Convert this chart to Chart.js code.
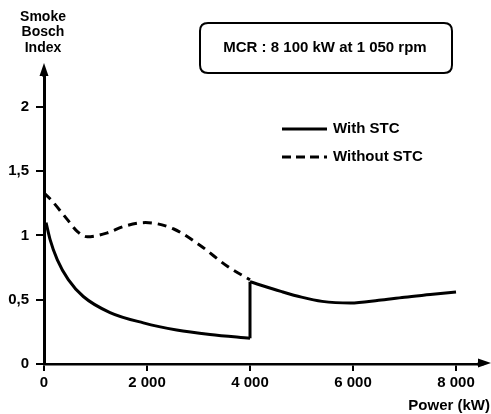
<!DOCTYPE html>
<html>
<head>
<meta charset="utf-8">
<script src="https://cdn.jsdelivr.net/npm/chart.js@4.4.1/dist/chart.umd.min.js"></script>
<style>
  html, body { margin: 0; padding: 0; background: #fff; }
  #wrap { width: 491px; height: 414px; position: relative; }
</style>
</head>
<body>
<div id="wrap"><canvas id="chart"></canvas></div>
<script>
// Values
const withStcLowPower = [40, 117, 259, 472, 763, 1282, 1929, 2576, 3223, 4000];
const withStcLowSmoke = [1.10, 0.97, 0.81, 0.656, 0.525, 0.40, 0.32, 0.265, 0.23, 0.20];
const withStcJumpPower = [4000, 4000];
const withStcJumpSmoke = [0.20, 0.64];
const withStcHighPower = [4000, 4600, 5000, 5400, 5950, 6500, 7000, 7500, 8000];
const withStcHighSmoke = [0.64, 0.565, 0.52, 0.487, 0.474, 0.495, 0.52, 0.54, 0.56];
const withoutStcPower = [0, 130, 450, 650, 840, 1230, 1550, 1970, 2520, 3040, 3560, 4000];
const withoutStcSmoke = [1.33, 1.28, 1.125, 1.03, 0.99, 1.02, 1.07, 1.10, 1.05, 0.92, 0.76, 0.655];

const xTickValues = [0, 2000, 4000, 6000, 8000];
const xTickLabels = ['0', '2 000', '4 000', '6 000', '8 000'];
const yTickValues = [0, 0.5, 1, 1.5, 2];
const yTickLabels = ['0', '0,5', '1', '1,5', '2'];

const legendLabels = ['With STC', 'Without STC'];
const yTitle = ['Smoke', 'Bosch', 'Index'];
const xTitle = 'Power (kW)';
const mcrText = 'MCR : 8 100 kW at 1 050 rpm';

const FONT = '"Liberation Sans", Arial, sans-serif';

function pts(xs, ys) {
  return xs.map((x, i) => ({ x, y: ys[i] }));
}

function roundRect(ctx, x, y, w, h, r) {
  ctx.beginPath();
  ctx.moveTo(x + r, y);
  ctx.lineTo(x + w - r, y);
  ctx.quadraticCurveTo(x + w, y, x + w, y + r);
  ctx.lineTo(x + w, y + h - r);
  ctx.quadraticCurveTo(x + w, y + h, x + w - r, y + h);
  ctx.lineTo(x + r, y + h);
  ctx.quadraticCurveTo(x, y + h, x, y + h - r);
  ctx.lineTo(x, y + r);
  ctx.quadraticCurveTo(x, y, x + r, y);
  ctx.closePath();
}

// draws axis arrows, titles, MCR box and the legend
const decorations = {
  id: 'decorations',
  afterDraw(chart) {
    const ctx = chart.ctx;
    const a = chart.chartArea;
    ctx.save();
    ctx.strokeStyle = '#000';
    ctx.fillStyle = '#000';

    // y axis arrow
    ctx.lineWidth = 3;
    ctx.beginPath();
    ctx.moveTo(a.left, a.top + 1);
    ctx.lineTo(a.left, a.top - 6);
    ctx.stroke();
    ctx.beginPath();
    ctx.moveTo(a.left, a.top - 13);
    ctx.lineTo(a.left - 4.5, a.top);
    ctx.lineTo(a.left + 4.5, a.top);
    ctx.closePath();
    ctx.fill();

    // x axis arrow
    ctx.lineWidth = 2.5;
    ctx.beginPath();
    ctx.moveTo(a.right - 1, a.bottom);
    ctx.lineTo(a.right + 6, a.bottom);
    ctx.stroke();
    ctx.beginPath();
    ctx.moveTo(a.right + 13, a.bottom - 1);
    ctx.lineTo(a.right, a.bottom - 5.5);
    ctx.lineTo(a.right, a.bottom + 3.5);
    ctx.closePath();
    ctx.fill();

    // axis titles
    ctx.font = 'bold 14px ' + FONT;
    ctx.textAlign = 'center';
    ctx.textBaseline = 'middle';
    yTitle.forEach((t, i) => ctx.fillText(t, 43, 17 + i * 15.5));
    ctx.font = 'bold 15px ' + FONT;
    ctx.textAlign = 'right';
    ctx.fillText(xTitle, 490, 406);

    // MCR box
    ctx.lineWidth = 2;
    roundRect(ctx, 200, 23, 252, 50, 8);
    ctx.stroke();
    ctx.textAlign = 'center';
    ctx.fillText(mcrText, 325, 48);

    // legend
    ctx.lineWidth = 3;
    ctx.beginPath();
    ctx.moveTo(282, 129);
    ctx.lineTo(327, 129);
    ctx.stroke();
    ctx.setLineDash([9, 5]);
    ctx.beginPath();
    ctx.moveTo(282, 157);
    ctx.lineTo(327, 157);
    ctx.stroke();
    ctx.setLineDash([]);
    ctx.textAlign = 'left';
    ctx.fillText(legendLabels[0], 333, 129);
    ctx.fillText(legendLabels[1], 333, 157);

    ctx.restore();
  }
};

const solid = { borderColor: '#000', borderWidth: 3, pointRadius: 0, fill: false, cubicInterpolationMode: 'monotone' };

new Chart(document.getElementById('chart'), {
  type: 'line',
  data: {
    datasets: [
      { ...solid, label: legendLabels[0], data: pts(withStcLowPower, withStcLowSmoke) },
      { ...solid, label: legendLabels[0], data: pts(withStcJumpPower, withStcJumpSmoke), cubicInterpolationMode: 'default', tension: 0 },
      { ...solid, label: legendLabels[0], data: pts(withStcHighPower, withStcHighSmoke) },
      { ...solid, label: legendLabels[1], data: pts(withoutStcPower, withoutStcSmoke), borderDash: [9, 6] }
    ]
  },
  options: {
    responsive: true,
    maintainAspectRatio: false,
    animation: false,
    layout: { padding: { top: 76, right: 13, left: 0, bottom: 0 } },
    plugins: {
      legend: { display: false },
      tooltip: { enabled: false }
    },
    scales: {
      x: {
        type: 'linear',
        min: 0,
        max: 8427,
        afterBuildTicks: s => { s.ticks = xTickValues.map(v => ({ value: v })); },
        afterFit: s => { s.height = 50; },
        border: { color: '#000', width: 2.5 },
        grid: { drawOnChartArea: false, color: '#000', lineWidth: 2, tickLength: 7 },
        ticks: {
          color: '#000',
          padding: 3,
          maxRotation: 0,
          font: { family: FONT, size: 15, weight: 'bold' },
          callback: (v, i) => xTickLabels[i]
        }
      },
      y: {
        type: 'linear',
        min: 0,
        max: 2.24,
        afterBuildTicks: s => { s.ticks = yTickValues.map(v => ({ value: v })); },
        afterFit: s => { s.width = 44; },
        border: { color: '#000', width: 3 },
        grid: { drawOnChartArea: false, color: '#000', lineWidth: 2, tickLength: 8 },
        ticks: {
          color: '#000',
          padding: 7,
          font: { family: FONT, size: 15, weight: 'bold' },
          callback: (v, i) => yTickLabels[i]
        }
      }
    }
  },
  plugins: [decorations]
});
</script>
</body>
</html>
